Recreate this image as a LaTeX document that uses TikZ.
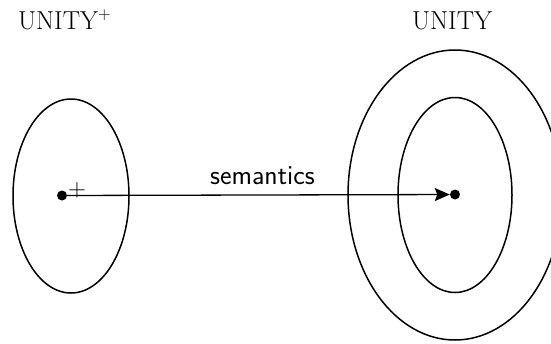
\documentclass[tikz,border=0pt]{standalone}
\usetikzlibrary{shapes.geometric,arrows.meta}
\begin{document}
\begin{tikzpicture}[x=1pt,y=-1pt,
  oval/.style={draw,ellipse,line width=1.5pt,inner sep=0pt},
  dotnode/.style={circle,fill=black,inner sep=0pt,minimum size=#1},
  title/.style={font=\fontsize{26}{30}\selectfont,anchor=base west,inner sep=0pt},
  lbl/.style={font=\sffamily\fontsize{27.5}{30}\selectfont,anchor=base west,inner sep=0pt}]
\useasboundingbox (0,0) rectangle (551,343);
\clip (0,0) rectangle (551,343);
\node[oval,minimum width=116pt,minimum height=194pt] (left) at (71,196) {};
\node[oval,minimum width=214pt,minimum height=290pt] (outer) at (455,195) {};
\node[oval,minimum width=114pt,minimum height=195pt] (inner) at (455,195) {};
\node[dotnode=10pt] (ldot) at (62,195.5) {};
\node[dotnode=10pt] (rdot) at (455,194.5) {};
\node[font=\fontsize{24}{26}\selectfont,inner sep=0pt] (plus) at (77,190.5) {$+$};
\draw[line width=1.3pt,-{Stealth[length=15pt,width=13pt,inset=2.5pt]}] (ldot) -- (rdot);
\node[lbl] (sem) at (210,184) {semantics};
\node[title] (up) at (18,29) {UNITY$^{+}$};
\node[title] (u) at (412,29) {UNITY};
\end{tikzpicture}
\end{document}
